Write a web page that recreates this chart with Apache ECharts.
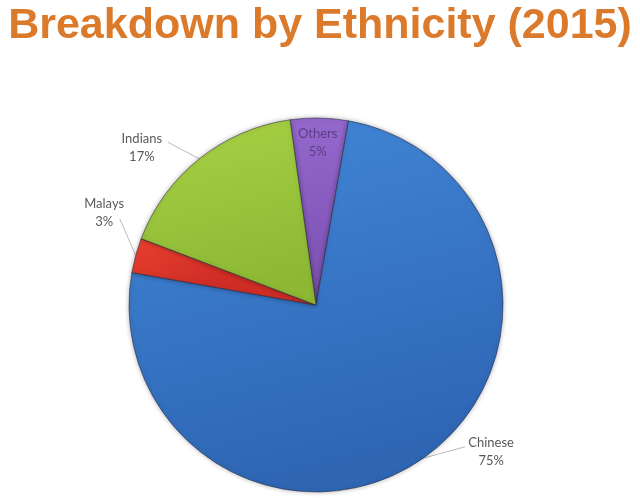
<!DOCTYPE html>
<html><head><meta charset="utf-8">
<script src="https://cdn.jsdelivr.net/npm/echarts@6/dist/echarts.min.js"></script>
<style>html,body{margin:0;padding:0;background:#fff}#c{width:640px;height:498px}</style>
</head><body><div id="c"></div>
<script>
const categories = ['Others', 'Chinese', 'Malays', 'Indians'];
const values = [5, 75, 3, 17];
const colorsTop = ['#9468cc', '#4287d8', '#e8402f', '#a8d144'];
const colorsBottom = ['#7a4fb0', '#2e66b4', '#d02d26', '#8cb834'];
const chart = echarts.init(document.getElementById('c'), null, {renderer: 'canvas'});
const labelFont = 'Lato, "Open Sans", sans-serif';
const labelShift = {Chinese: [24, -16], Malays: [17, -39], Indians: [-13, -2], Others: [0, 0]};
const lineAnchor = {Chinese: [0, 0.33], Malays: [0.8, 0.68], Indians: [1, 0.33], Others: [0.5, 0.5]};
const data = categories.map((c, i) => {
  const d = {name: c, value: values[i], itemStyle: {color: {type: 'linear', x: 0, y: 0, x2: 0.25, y2: 1,
    colorStops: [{offset: 0, color: colorsTop[i]}, {offset: 1, color: colorsBottom[i]}]}}};
  if (c === 'Others') {
    d.label = {position: 'inside', offset: [0, -66], rich: {t: {color: '#5b3f85'}}};
    d.labelLine = {show: false};
  }
  return d;
});
chart.setOption({
  animation: false,
  title: {
    text: 'Breakdown by Ethnicity (2015)', left: 'center', top: 0,
    textStyle: {fontFamily: '"Liberation Sans", Arial, sans-serif', fontWeight: 'bold', fontSize: 43, color: '#dc7a2c'}
  },
  series: [{
    type: 'pie',
    center: [316, 305],
    radius: 187,
    startAngle: 98,
    clockwise: true,
    avoidLabelOverlap: false,
    itemStyle: {borderColor: 'rgba(40,40,60,0.55)', borderWidth: 1, shadowBlur: 5, shadowColor: 'rgba(0,0,0,0.3)'},
    label: {
      show: true,
      formatter: '{t|{b}}\n{t|{d}%}',
      rich: {t: {fontFamily: labelFont, fontSize: 13, color: '#595959', lineHeight: 18, width: 52, align: 'center'}}
    },
    labelLine: {show: true, length: 12, length2: 6, lineStyle: {color: '#bbbbbb', width: 1}},
    labelLayout: function (p) {
      const name = categories[p.dataIndex];
      const s = labelShift[name];
      const out = {dx: s[0], dy: s[1]};
      if (p.labelLinePoints && p.labelLinePoints.length) {
        const st = p.labelLinePoints[0];
        const r = p.labelRect;
        const a = lineAnchor[name];
        out.labelLinePoints = [st, [r.x + s[0] + a[0] * r.width, r.y + s[1] + a[1] * r.height]];
      }
      return out;
    },
    data: data
  }]
});
</script></body></html>
